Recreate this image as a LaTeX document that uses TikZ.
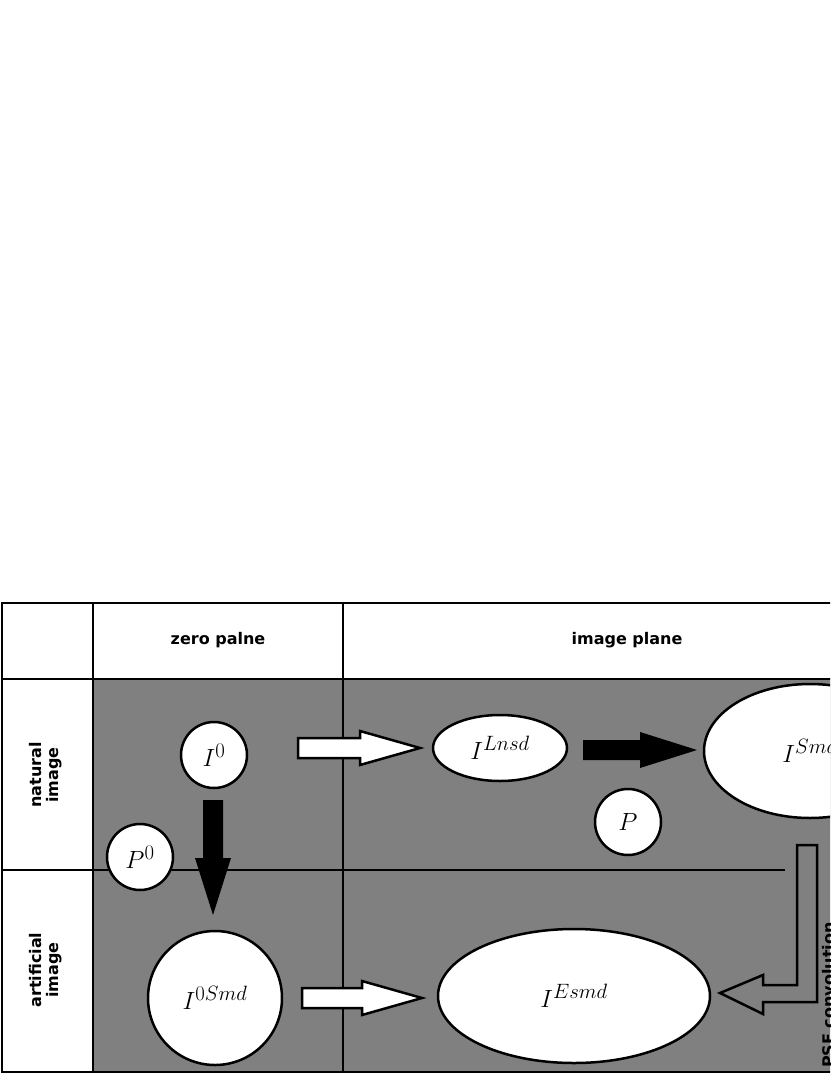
\documentclass[tikz,border=0pt]{standalone}
\usepackage{fontspec}
\setsansfont{DejaVu Sans}
\usetikzlibrary{shapes.geometric}
\begin{document}
\begin{tikzpicture}[x=1pt,y=-1pt,
  bub/.style={draw=black,line width=2.5pt,fill=white,inner sep=0pt,font=\fontsize{30}{30}\selectfont},
  hdr/.style={font=\sffamily\bfseries\fontsize{16}{19}\selectfont},
  side/.style={font=\sffamily\bfseries\fontsize{16}{17}\selectfont,align=center,rotate=90},
  warrow/.style={draw=black,line width=2.5pt,fill=white,line join=miter},
  barrow/.style={fill=black}]
\useasboundingbox (0,0) rectangle (830,1075);
\clip (0,0) rectangle (830,1075);
% gray area
\fill[black!50] (93,679) rectangle (900,1072);
% frame and grid
\draw[line width=2.5pt] (2,603) rectangle (950,1072);
\draw[line width=2.5pt] (93,603) -- (93,1072);
\draw[line width=2.5pt] (343,603) -- (343,1072);
\draw[line width=2.5pt] (2,679) -- (950,679);
\draw[line width=2.5pt] (2,870) -- (785,870);
% headers
\node[hdr] (h1) at (218,640) {zero palne};
\node[hdr] (h2) at (627,640) {image plane};
\node[side] (s1) at (46,775) {natural\\image};
\node[side] (s2) at (46,970) {artificial\\image};
% nodes
\node[bub,circle,minimum size=66pt] (I0) at (214,755) {$I^0$};
\node[bub,circle,minimum size=66pt] (P0) at (140,857) {$P^0$};
\node[bub,circle,minimum size=134pt] (I0S) at (215,998) {$I^{0Smd}$};
\node[bub,ellipse,minimum width=134pt,minimum height=66pt] (IL) at (500,748) {$I^{Lnsd}$};
\node[bub,ellipse,minimum width=212pt,minimum height=134pt] (IS) at (810,751) {$I^{Smd}$};
\node[bub,circle,minimum size=66pt] (P) at (628,822) {$P$};
\node[bub,ellipse,minimum width=272pt,minimum height=134pt] (IE) at (574,996) {$I^{Esmd}$};
% white arrows
\draw[warrow] (298,738) -- (360,738) -- (360,731) -- (420,748) -- (360,765) -- (360,758) -- (298,758) -- cycle;
\draw[warrow] (302,988) -- (362,988) -- (362,981) -- (422,998) -- (362,1015) -- (362,1008) -- (302,1008) -- cycle;
% black arrows
\fill[barrow] (583,740) -- (640,740) -- (640,732) -- (697,750) -- (640,768) -- (640,760) -- (583,760) -- cycle;
\fill[barrow] (203,800) -- (223,800) -- (223,858) -- (231,858) -- (213,915) -- (195,858) -- (203,858) -- cycle;
% L-shaped arrow
\draw[warrow,fill=black!50] (797,845) -- (817,845) -- (817,1002) -- (763,1002) -- (763,1014) -- (720,993) -- (763,975) -- (763,985) -- (797,985) -- cycle;
\node[font=\sffamily\bfseries\fontsize{16}{19}\selectfont,rotate=90,anchor=north west,inner sep=0pt] (psf) at (822,1068) {PSF convolution};
\end{tikzpicture}
\end{document}
